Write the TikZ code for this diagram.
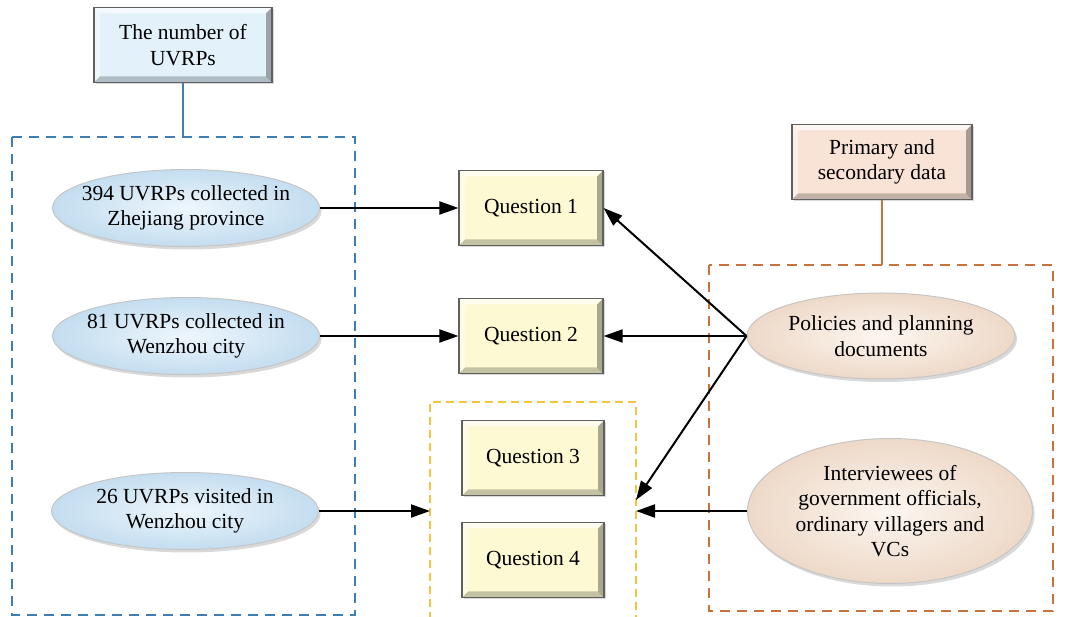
\documentclass[tikz,border=0pt]{standalone}
\usepackage{fontspec}
\setmainfont{Liberation Serif}
\usetikzlibrary{arrows.meta,shapes.geometric,shadows}
\definecolor{blueinner}{HTML}{EEF6FC}
\definecolor{blueouter}{HTML}{C3DDF0}
\definecolor{peachinner}{HTML}{FCF6F0}
\definecolor{peachouter}{HTML}{EED9C8}
\definecolor{boxblue}{HTML}{E2F1FA}
\definecolor{boxyellow}{HTML}{FDF9D2}
\definecolor{boxpeach}{HTML}{F9E3D6}
\definecolor{dblue}{HTML}{3F7EB3}
\definecolor{dyellow}{HTML}{F2C53D}
\definecolor{dorange}{HTML}{C8733E}
\tikzset{
  bevel/.style={path picture={
    \coordinate (bvnw) at (path picture bounding box.north west);
    \coordinate (bvse) at (path picture bounding box.south east);
    \coordinate (bvne) at (bvnw -| bvse);
    \coordinate (bvsw) at (bvnw |- bvse);
    \fill[white,opacity=.65] (bvnw) -- (bvne) -- ([shift={(-6pt,-6pt)}]bvne) -- ([shift={(6pt,-6pt)}]bvnw) -- cycle;
    \fill[white,opacity=.45] (bvnw) -- (bvsw) -- ([shift={(6pt,6pt)}]bvsw) -- ([shift={(6pt,-6pt)}]bvnw) -- cycle;
    \fill[black,opacity=.22] (bvsw) -- (bvse) -- ([shift={(-6pt,6pt)}]bvse) -- ([shift={(6pt,6pt)}]bvsw) -- cycle;
    \fill[black,opacity=.32] (bvne) -- (bvse) -- ([shift={(-6pt,6pt)}]bvse) -- ([shift={(-6pt,-6pt)}]bvne) -- cycle;
  }},
  qbox/.style={rectangle, draw=gray!75!black, line width=1.2pt, fill=boxyellow, bevel,
    minimum width=144pt, minimum height=75pt, inner sep=0pt, align=center,
    drop shadow={opacity=0.3, shadow xshift=2pt, shadow yshift=-2pt}},
  hbox/.style={rectangle, draw=gray!75!black, line width=1.2pt, bevel,
    minimum width=178pt, minimum height=75pt, inner sep=0pt, align=center,
    drop shadow={opacity=0.3, shadow xshift=2pt, shadow yshift=-2pt}},
  oval/.style={ellipse, draw=gray!45, line width=1pt, inner sep=0pt,
    drop shadow={opacity=0.3, shadow xshift=2pt, shadow yshift=-3pt}},
  blueoval/.style={oval, inner color=blueinner, outer color=blueouter,
    minimum width=267pt, minimum height=77pt},
  peachoval/.style={oval, inner color=peachinner, outer color=peachouter},
  otext/.style={align=center, inner sep=0pt},
  dashbox/.style={dashed, dash pattern=on 10pt off 7pt, line width=1.3pt},
  arr/.style={line width=2pt, -{Triangle[length=19pt,width=13pt]}},
  link/.style={line width=1.3pt}
}
\begin{document}
\begin{tikzpicture}[x=1pt,y=-1pt,font=\fontsize{21.5}{25.5}\selectfont]
\useasboundingbox (0,0) rectangle (1072,617);
% left group
\node[hbox, fill=boxblue] (nb) at (183,45) {The number of\\UVRPs};
\draw[dashbox, draw=dblue] (12,137) rectangle (355,615);
\coordinate (lt) at (183,137);
\draw[link, draw=dblue] (nb.south) -- (lt);
\node[blueoval] (e1) at (186,208) {};
\node[otext] (e1t) at (e1) {394 UVRPs collected in\\Zhejiang province};
\node[blueoval] (e2) at (186,336) {};
\node[otext] (e2t) at (e2) {81 UVRPs collected in\\Wenzhou city};
\node[blueoval] (e3) at (185,511) {};
\node[otext] (e3t) at (e3) {26 UVRPs visited in\\Wenzhou city};
% questions
\node[qbox] (q1) at (531,208) {Question 1};
\node[qbox] (q2) at (531,336) {Question 2};
\draw[dashbox, dash pattern=on 8pt off 5pt, line width=1.1pt, draw=dyellow] (430,620) -- (430,402) -- (636,402) -- (636,620);
\coordinate (yl) at (430,511);
\coordinate (yr) at (636,500);
\coordinate (yr2) at (636,511);
\node[qbox, minimum width=142pt] (q3) at (533,458) {Question 3};
\node[qbox, minimum width=142pt] (q4) at (533,560) {Question 4};
% right group
\node[hbox, fill=boxpeach, minimum width=180pt] (pd) at (882,162) {Primary and\\secondary data};
\draw[dashbox, draw=dorange] (709,265) rectangle (1053,611);
\coordinate (rt) at (882,265);
\draw[link, draw=dorange] (pd.south) -- (rt);
\node[peachoval, minimum width=268pt, minimum height=86pt] (pol) at (881,336) {};
\node[otext] (polt) at (pol) {Policies and planning\\documents};
\node[peachoval, minimum width=285pt, minimum height=145pt] (int) at (890,511) {};
\node[otext] (intt) at (int) {Interviewees of\\government officials,\\ordinary villagers and\\VCs};
% arrows
\draw[arr] (e1.east) -- (q1.west);
\draw[arr] (e2.east) -- (q2.west);
\draw[arr] (e3.east) -- (yl);
\draw[arr] (pol.west) -- (q1.east);
\draw[arr] (pol.west) -- (q2.east);
\draw[arr] (pol.west) -- (yr);
\draw[arr] (int.west) -- (yr2);
\end{tikzpicture}
\end{document}
